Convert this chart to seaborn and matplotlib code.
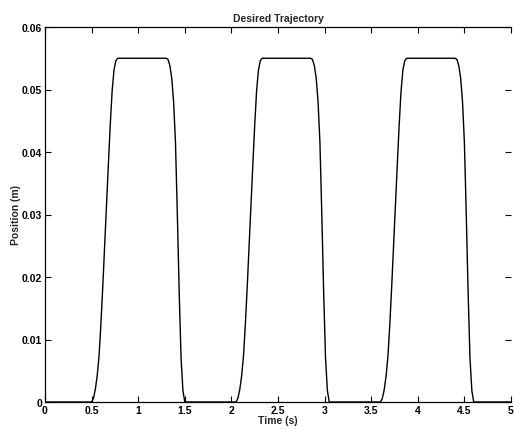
import matplotlib
matplotlib.use("Agg")
import matplotlib.pyplot as plt
import seaborn as sns
import pandas as pd

# ---- data ----
time_s = [
    0.00,
    0.50, 0.52, 0.54, 0.56, 0.58, 0.60, 0.62, 0.64, 0.66, 0.68, 0.70, 0.72, 0.74, 0.76, 0.78,
    1.30, 1.32, 1.34, 1.36, 1.38, 1.40, 1.42, 1.44, 1.46, 1.48, 1.50,
    2.05, 2.07, 2.09, 2.11, 2.13, 2.15, 2.17, 2.19, 2.21, 2.23, 2.25, 2.27, 2.29, 2.31, 2.33,
    2.85, 2.87, 2.89, 2.91, 2.93, 2.95, 2.97, 2.99, 3.01, 3.03, 3.05,
    3.60, 3.62, 3.64, 3.66, 3.68, 3.70, 3.72, 3.74, 3.76, 3.78, 3.80, 3.82, 3.84, 3.86, 3.88,
    4.40, 4.42, 4.44, 4.46, 4.48, 4.50, 4.52, 4.54, 4.56, 4.58, 4.60,
    5.00,
]
position_m = [
    0.0,
    0.0, 0.0006, 0.0020, 0.0042, 0.0074, 0.0125, 0.0185, 0.0250, 0.0315, 0.0380, 0.0443, 0.0497, 0.0531, 0.0546, 0.0550,
    0.0550, 0.0548, 0.0538, 0.0518, 0.0480, 0.0415, 0.0300, 0.0175, 0.0070, 0.0018, 0.0,
    0.0, 0.0006, 0.0020, 0.0042, 0.0074, 0.0125, 0.0185, 0.0250, 0.0315, 0.0380, 0.0443, 0.0497, 0.0531, 0.0546, 0.0550,
    0.0550, 0.0548, 0.0538, 0.0518, 0.0480, 0.0415, 0.0300, 0.0175, 0.0070, 0.0018, 0.0,
    0.0, 0.0006, 0.0020, 0.0042, 0.0074, 0.0125, 0.0185, 0.0250, 0.0315, 0.0380, 0.0443, 0.0497, 0.0531, 0.0546, 0.0550,
    0.0550, 0.0548, 0.0538, 0.0518, 0.0480, 0.0415, 0.0300, 0.0175, 0.0070, 0.0018, 0.0,
    0.0,
]
x_ticks = [0, 0.5, 1, 1.5, 2, 2.5, 3, 3.5, 4, 4.5, 5]
x_tick_labels = ["0", "0.5", "1", "1.5", "2", "2.5", "3", "3.5", "4", "4.5", "5"]
y_ticks = [0, 0.01, 0.02, 0.03, 0.04, 0.05, 0.06]
y_tick_labels = ["0", "0.01", "0.02", "0.03", "0.04", "0.05", "0.06"]
title_text = "Desired Trajectory"
x_label = "Time (s)"
y_label = "Position (m)"

# ---- style ----
sns.set_style("ticks")
plt.rcParams["font.family"] = ["Liberation Sans", "DejaVu Sans"]
plt.rcParams["font.weight"] = "bold"

df = pd.DataFrame({"t": time_s, "pos": position_m})

fig = plt.figure(figsize=(5.14, 4.31), dpi=100)
ax = fig.add_axes([45 / 514, 1 - 403 / 431, 466 / 514, 375 / 431])

sns.lineplot(data=df, x="t", y="pos", ax=ax, color="black", linewidth=1.0,
             estimator=None, sort=False)

ax.set_xlim(0, 5)
ax.set_ylim(0, 0.06)
ax.set_xticks(x_ticks)
ax.set_xticklabels(x_tick_labels)
ax.set_yticks(y_ticks)
ax.set_yticklabels(y_tick_labels)
ax.tick_params(direction="in", length=4, width=0.8, top=True, right=True,
               labelsize=7.5, pad=2, colors="black")
for name, s in ax.spines.items():
    s.set_visible(name != "right")
    s.set_linewidth(0.9)
    s.set_color("black")

ax.set_title(title_text, fontsize=7.5, fontweight="bold", pad=4)
ax.set_xlabel(x_label, fontsize=7.5, fontweight="bold", labelpad=0)
ax.set_ylabel(y_label, fontsize=7.5, fontweight="bold", labelpad=1)

fig.savefig("out.png", dpi=100)
